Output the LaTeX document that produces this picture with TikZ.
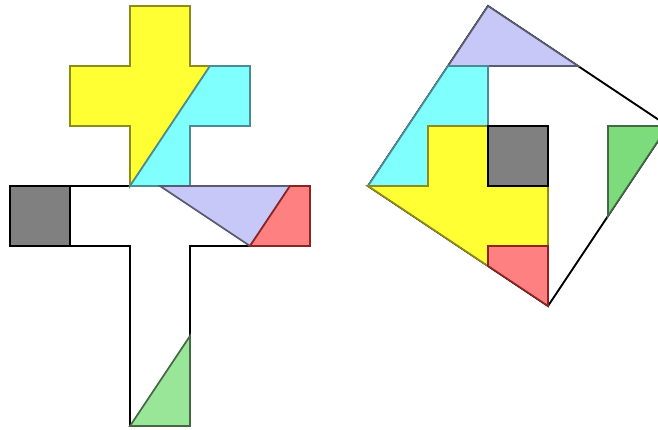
\documentclass[tikz,border=0pt]{standalone}
\usepackage{tikz}
\usetikzlibrary{calc}
\usepackage{xcolor}
\definecolor{pcyellow}{HTML}{FFFF33}
\definecolor{pccyan}{HTML}{80FFFF}
\definecolor{pclilac}{HTML}{C8C8F8}
\definecolor{pcred}{HTML}{FF8080}
\definecolor{pcgreen}{HTML}{99E699}
\definecolor{pcgreenb}{HTML}{7CDC7C}
\definecolor{pcgray}{HTML}{808080}
\definecolor{pccyanline}{HTML}{4A8C96}
\definecolor{pcredline}{HTML}{8C2424}

\begin{document}
\begin{tikzpicture}[
      line join=miter,
      outline/.style={draw=black, line width=0.9pt, fill=white},
      yelpc/.style={draw=pcyellow!55!black, line width=0.8pt, fill=pcyellow},
      cyanpc/.style={draw=pccyanline, line width=0.8pt, fill=pccyan},
      lilacpc/.style={draw=pclilac!45!black, line width=0.8pt, fill=pclilac},
      redpc/.style={draw=pcredline, line width=0.8pt, fill=pcred},
      greenpc/.style={draw=pcgreen!45!black, line width=0.8pt, fill=pcgreen},
      graypc/.style={draw=black, line width=0.9pt, fill=pcgray},
    ]
    \clip (-1/6,-1/15) rectangle (648/60,7.1);

    % Cross
    \draw[outline] (0,4) -- (5,4) -- (5,3) -- (3,3) -- (3,0) -- (2,0) -- (2,3) -- (0,3) -- cycle;
    \draw[graypc] (0,3) rectangle (1,4);
    \draw[yelpc] (2,4) -- (2,5) -- (1,5) -- (1,6) -- (2,6) -- (2,7) -- (3,7) -- (3,6) -- (10/3,6) -- cycle;
    \draw[cyanpc] (2,4) -- (10/3,6) -- (4,6) -- (4,5) -- (3,5) -- (3,4) -- cycle;
    \draw[lilacpc] (2.5,4) -- (14/3,4) -- (4,3) -- cycle;
    \draw[redpc] (4,3) -- (14/3,4) -- (5,4) -- (5,3) -- cycle;
    \draw[greenpc] (2,0) -- (3,1.5) -- (3,0) -- cycle;

    % Square
    \begin{scope}[shift={(7.9667,0)}]
      \draw[outline] (0,7) -- (3,5) -- (1,2) -- (-2,4) -- cycle;
      \draw[lilacpc] (-2/3,6) -- (1.5,6) -- (0,7) -- cycle;
      \draw[cyanpc] (-2,4) -- (-2/3,6) -- (0,6) -- (0,5) -- (-1,5) -- (-1,4) -- cycle;
      \draw[yelpc] (-2,4) -- (0,8/3) -- (0,3) -- (1,3) -- (1,4) -- (0,4) -- (0,5) -- (-1,5) -- (-1,4) -- cycle;
      \draw[graypc] (0,4) rectangle (1,5);
      \draw[redpc] (0,3) -- (1,3) -- (1,2) -- (0,8/3) -- cycle;
      \draw[greenpc, fill=pcgreenb] (2,5) -- (3,5) -- (2,3.5) -- cycle;
    \end{scope}
  \end{tikzpicture}
\end{document}
